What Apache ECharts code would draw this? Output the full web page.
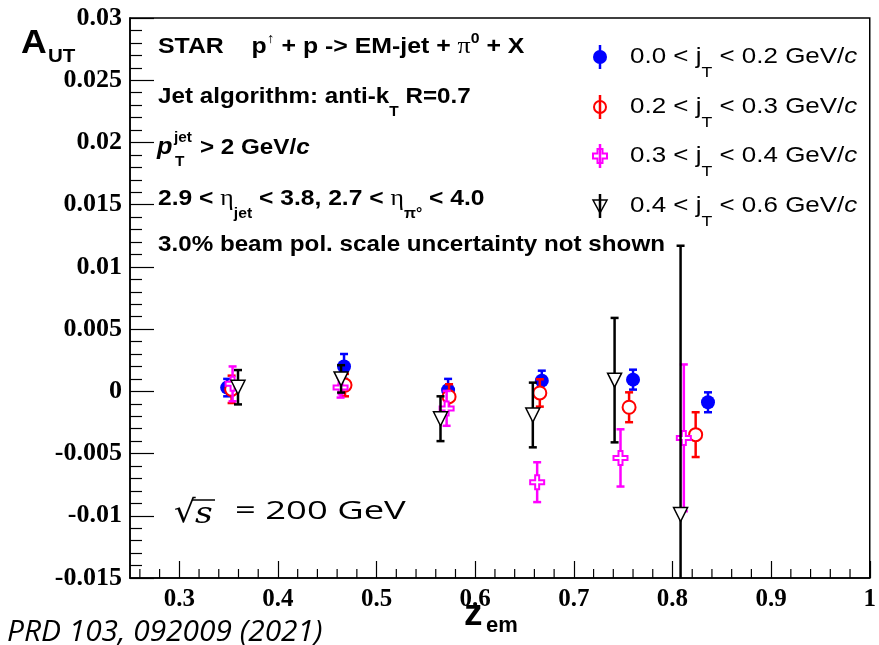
<!DOCTYPE html>
<html><head><meta charset="utf-8">
<script src="https://cdn.jsdelivr.net/npm/echarts@6/dist/echarts.min.js"></script>
<style>html,body{margin:0;padding:0;background:#fff}#c{width:879px;height:645px}</style>
</head><body><div id="c"></div>
<script>
// ---- data ----
const zBlue = [0.3485, 0.467, 0.5725, 0.6675, 0.760, 0.836];
const aBlue = [0.0003, 0.0020, 0.0001, 0.00086, 0.00094, -0.00088];
const eBlue = [0.0007, 0.0010, 0.0009, 0.0008, 0.0008, 0.0008];

const zRed = [0.353, 0.468, 0.5735, 0.6655, 0.756, 0.8235];
const aRed = [0.00016, 0.0005, -0.00043, -0.00013, -0.00128, -0.00348];
const eRed = [0.0011, 0.0009, 0.0010, 0.0011, 0.0012, 0.0018];

const zMag = [0.354, 0.4635, 0.571, 0.6628, 0.7473, 0.8115];
const aMag = [0.0006, 0.0003, -0.00137, -0.0073, -0.00535, -0.00374];
const eMag = [0.0014, 0.0008, 0.0014, 0.0016, 0.0023, 0.0059];

const zBlk = [0.3595, 0.464, 0.5648, 0.6584, 0.7413, 0.8082];
const aBlk = [0.00033, 0.0010, -0.0022, -0.0019, 0.0009, -0.0099];
const eBlk = [0.00138, 0.0011, 0.0018, 0.0026, 0.0050, 0.0216];

const legendLabels = ['0.0', '0.2', '0.3', '0.4'];
const legendUpper = ['0.2', '0.3', '0.4', '0.6'];

const xMajorTicks = [0.3, 0.4, 0.5, 0.6, 0.7, 0.8, 0.9, 1.0];
const xMinorTicks = [];
for (let k = 26; k < 100; k += 2) { if (k % 10 !== 0) xMinorTicks.push(k / 100); }

// ---- styling ----
const SANS = '"Liberation Sans", Arial, Helvetica, sans-serif';
const SERIF = '"Liberation Serif", "Times New Roman", serif';
const cBlue = '#0000ff', cRed = '#ff0000', cMag = '#ff00ff', cBlk = '#000000';
const SX = 1.1;   // horizontal stretch of the annotation text
const LSX = 1.18; // horizontal stretch of the legend text

function errSeries(name, color, z, a, e, zz) {
  return {
    type: 'custom', name: name + ' err', z: zz, clip: true, silent: true,
    data: z.map((x, i) => [x, a[i], a[i] - e[i], a[i] + e[i]]),
    encode: { x: 0, y: [1, 2, 3] },
    renderItem: function (params, api) {
      const x = api.value(0);
      const lo = api.coord([x, api.value(2)]);
      const hi = api.coord([x, api.value(3)]);
      const cap = 4, st = { stroke: color, lineWidth: 2.5 };
      return { type: 'group', children: [
        { type: 'line', shape: { x1: lo[0], y1: lo[1], x2: hi[0], y2: hi[1] }, style: st },
        { type: 'line', shape: { x1: lo[0] - cap, y1: lo[1], x2: lo[0] + cap, y2: lo[1] }, style: st },
        { type: 'line', shape: { x1: hi[0] - cap, y1: hi[1], x2: hi[0] + cap, y2: hi[1] }, style: st }
      ]};
    }
  };
}
const crossPath = 'path://M5,0H9V5H14V9H9V14H5V9H0V5H5Z';

function markSeries(name, z, a, opts, zz) {
  return Object.assign({
    type: 'scatter', name: name, z: zz, silent: true,
    data: z.map((x, i) => [x, a[i]])
  }, opts);
}

// minor x ticks drawn through the x scale
const minorTickSeries = {
  type: 'custom', z: 10, clip: false, silent: true,
  data: xMinorTicks.map(v => [v, -0.015]),
  encode: { x: 0, y: 1 },
  renderItem: function (params, api) {
    const p = api.coord([api.value(0), api.value(1)]);
    return { type: 'line', shape: { x1: p[0], y1: p[1], x2: p[0], y2: p[1] - 9 }, style: { stroke: '#000', lineWidth: 1.2 } };
  }
};

// ---- legend (graphic) ----
const legendRowsY = [57, 107, 156, 206];
const legendColors = [cBlue, cRed, cMag, cBlk];
const legendGraphics = [];
const mx = 600;
legendRowsY.forEach((y, i) => {
  const col = legendColors[i];
  let marker;
  if (i === 0) marker = { type: 'circle', shape: { cx: mx, cy: y, r: 7 }, style: { fill: col } };
  else if (i === 1) marker = { type: 'circle', shape: { cx: mx, cy: y, r: 6 }, style: { fill: 'none', stroke: col, lineWidth: 2 } };
  else if (i === 2) {
    const a = 2.5, L = 7;
    marker = { type: 'polygon', shape: { points: [[mx-a,y-L],[mx+a,y-L],[mx+a,y-a],[mx+L,y-a],[mx+L,y+a],[mx+a,y+a],[mx+a,y+L],[mx-a,y+L],[mx-a,y+a],[mx-L,y+a],[mx-L,y-a],[mx-a,y-a]] }, style: { fill: 'none', stroke: col, lineWidth: 2 } };
  } else marker = { type: 'polygon', shape: { points: [[mx-7,y-6],[mx+7,y-6],[mx,y+7]] }, style: { fill: 'none', stroke: col, lineWidth: 1.5 } };
  legendGraphics.push(marker);
  legendGraphics.push({ type: 'line', shape: { x1: mx, y1: y - 12, x2: mx, y2: y + 12 }, style: { stroke: col, lineWidth: 2.5 } });
  legendGraphics.push({
    type: 'text', x: 630, y: y, scaleX: LSX,
    style: {
      text: legendLabels[i] + ' < j{s|T} < ' + legendUpper[i] + ' GeV/{i|c}',
      fontFamily: SANS, fontSize: 22, fill: '#000', align: 'left', verticalAlign: 'middle',
      lineHeight: 46,
      rich: {
        s: { fontFamily: SANS, fontSize: 15, verticalAlign: 'bottom', lineHeight: 16, fill: '#000' },
        i: { fontFamily: SANS, fontSize: 22, fontStyle: 'italic', fill: '#000', lineHeight: 46 }
      }
    }
  });
});

// ---- text annotations ----
const B44 = { fontFamily: SANS, fontWeight: 'bold', fontSize: 22, fill: '#000', lineHeight: 44 };
const B30 = { fontFamily: SANS, fontWeight: 'bold', fontSize: 22, fill: '#000', lineHeight: 30 };
const SUB = { fontFamily: SANS, fontWeight: 'bold', fontSize: 14, verticalAlign: 'bottom', lineHeight: 12, fill: '#000' };
const annot = [
  { type: 'text', x: 158, y: 47, scaleX: 1.13, style: {
      text: 'STAR    p{sup|↑}{b| + p -> EM-jet + }{g|π}{sup|0}{b| + X}',
      fontFamily: SANS, fontWeight: 'bold', fontSize: 22, fill: '#000', lineHeight: 30, verticalAlign: 'middle',
      rich: { b: B30, sup: { fontFamily: SANS, fontWeight: 'bold', fontSize: 14, verticalAlign: 'top', lineHeight: 12, fill: '#000' },
              g: { fontFamily: SERIF, fontSize: 23, fill: '#000', lineHeight: 30 } } } },
  { type: 'text', x: 158, y: 97, scaleX: SX, style: {
      text: 'Jet algorithm: anti-k{sub|T}{b| R=0.7}',
      fontFamily: SANS, fontWeight: 'bold', fontSize: 22, fill: '#000', lineHeight: 44, verticalAlign: 'middle',
      rich: { b: B44, sub: SUB } } },
  { type: 'text', x: 157, y: 148, scaleX: SX, style: { text: 'p', fontFamily: SANS, fontWeight: 'bold', fontStyle: 'italic', fontSize: 23, fill: '#000', verticalAlign: 'middle' } },
  { type: 'text', x: 174, y: 138, scaleX: SX, style: { text: 'jet', fontFamily: SANS, fontWeight: 'bold', fontSize: 14, fill: '#000', verticalAlign: 'middle' } },
  { type: 'text', x: 175, y: 162, scaleX: SX, style: { text: 'T', fontFamily: SANS, fontWeight: 'bold', fontSize: 14, fill: '#000', verticalAlign: 'middle' } },
  { type: 'text', x: 200, y: 148, scaleX: SX, style: {
      text: '> 2 GeV/{i|c}', fontFamily: SANS, fontWeight: 'bold', fontSize: 22, fill: '#000', verticalAlign: 'middle',
      rich: { i: { fontFamily: SANS, fontWeight: 'bold', fontStyle: 'italic', fontSize: 22, fill: '#000' } } } },
  { type: 'text', x: 158, y: 199, scaleX: 1.12, style: {
      text: '2.9 < {g|η}{sub|jet}{b| < 3.8, 2.7 < }{g|η}{sub|π°}{b| < 4.0}',
      fontFamily: SANS, fontWeight: 'bold', fontSize: 22, fill: '#000', lineHeight: 44, verticalAlign: 'middle',
      rich: { b: B44, sub: SUB, g: { fontFamily: SERIF, fontSize: 23, fill: '#000', lineHeight: 44 } } } },
  { type: 'text', x: 158, y: 245, scaleX: SX, style: { text: '3.0% beam pol. scale uncertainty not shown', fontFamily: SANS, fontWeight: 'bold', fontSize: 22, fill: '#000', verticalAlign: 'middle' } },
  // axis titles
  { type: 'text', x: 21, y: 44, scaleX: 1.08, style: { text: 'A', fontFamily: SANS, fontWeight: 'bold', fontSize: 33, fill: '#000', verticalAlign: 'middle' } },
  { type: 'text', x: 48, y: 57, scaleX: 1.08, style: { text: 'UT', fontFamily: SANS, fontWeight: 'bold', fontSize: 19, fill: '#000', verticalAlign: 'middle' } },
  { type: 'text', x: 464, y: 615, style: { text: 'z', fontFamily: SANS, fontWeight: 'bold', fontSize: 37, fill: '#000', verticalAlign: 'middle' } },
  { type: 'text', x: 486, y: 626, style: { text: 'em', fontFamily: SANS, fontWeight: 'bold', fontSize: 22, fill: '#000', verticalAlign: 'middle' } },
  // sqrt(s)
  { type: 'text', x: 174, y: 514, scaleX: 1.1, style: { text: '√', fontFamily: '"DejaVu Serif", serif', fontSize: 31, fill: '#000', verticalAlign: 'middle' } },
  { type: 'line', shape: { x1: 192, y1: 500, x2: 215, y2: 500 }, style: { stroke: '#000', lineWidth: 1.5 } },
  { type: 'text', x: 195, y: 515, scaleX: 1.15, style: { text: 's', fontFamily: '"DejaVu Serif", serif', fontStyle: 'italic', fontSize: 30, fill: '#000', verticalAlign: 'middle' } },
  { type: 'text', x: 235, y: 512, scaleX: 1.4, style: { text: '= 200 GeV', fontFamily: '"Open Sans", sans-serif', fontSize: 26, fill: '#000', verticalAlign: 'middle' } },
  // reference
  { type: 'text', x: 7, y: 633, scaleX: 1.03, style: { text: 'PRD 103, 092009 (2021)', fontFamily: '"Open Sans", sans-serif', fontStyle: 'italic', fontSize: 29, fill: '#000', verticalAlign: 'middle' } }
];

const chart = echarts.init(document.getElementById('c'), null, { renderer: 'canvas' });
chart.setOption({
  animation: false,
  backgroundColor: '#fff',
  grid: { left: 130, top: 18, right: 1, bottom: 67, show: true, borderColor: '#000', borderWidth: 1.5, backgroundColor: 'transparent' },
  xAxis: {
    type: 'value', min: 0.25, max: 1.0,
    axisLine: { show: true, onZero: false, lineStyle: { color: '#000', width: 1.5 } },
    axisTick: { show: true, inside: true, length: 17, customValues: xMajorTicks, lineStyle: { color: '#000', width: 1.2 } },
    axisLabel: { show: true, customValues: xMajorTicks, margin: 9, color: '#000', fontFamily: SERIF, fontWeight: 'bold', fontSize: 25,
      formatter: v => String(+v.toFixed(2)) },
    splitLine: { show: false }
  },
  yAxis: {
    type: 'value', min: -0.015, max: 0.03, interval: 0.005,
    axisLine: { show: true, onZero: false, lineStyle: { color: '#000', width: 1.5 } },
    axisTick: { show: true, inside: true, length: 24, lineStyle: { color: '#000', width: 1.2 } },
    minorTick: { show: true, splitNumber: 5, length: 12, lineStyle: { color: '#000', width: 1.2 } },
    axisLabel: { margin: 8, color: '#000', fontFamily: SERIF, fontWeight: 'bold', fontSize: 26,
      formatter: v => String(+v.toFixed(4)) },
    splitLine: { show: false }, minorSplitLine: { show: false }
  },
  series: [
    minorTickSeries,
    errSeries('blue', cBlue, zBlue, aBlue, eBlue, 2),
    markSeries('0.0 < jT < 0.2', zBlue, aBlue, { symbol: 'circle', symbolSize: 14, itemStyle: { color: cBlue, opacity: 1 } }, 3),
    errSeries('red', cRed, zRed, aRed, eRed, 4),
    markSeries('0.2 < jT < 0.3', zRed, aRed, { symbol: 'circle', symbolSize: 13, itemStyle: { color: '#fff', borderColor: cRed, borderWidth: 2, opacity: 1 } }, 5),
    errSeries('mag', cMag, zMag, aMag, eMag, 6),
    markSeries('0.3 < jT < 0.4', zMag, aMag, { symbol: crossPath, symbolSize: 14, itemStyle: { color: '#fff', borderColor: cMag, borderWidth: 2, opacity: 1 } }, 7),
    errSeries('blk', cBlk, zBlk, aBlk, eBlk, 8),
    markSeries('0.4 < jT < 0.6', zBlk, aBlk, { symbol: 'triangle', symbolRotate: 180, symbolSize: 14, itemStyle: { color: '#fff', borderColor: cBlk, borderWidth: 1.5, opacity: 1 } }, 9)
  ],
  graphic: legendGraphics.concat(annot)
});
</script></body></html>
